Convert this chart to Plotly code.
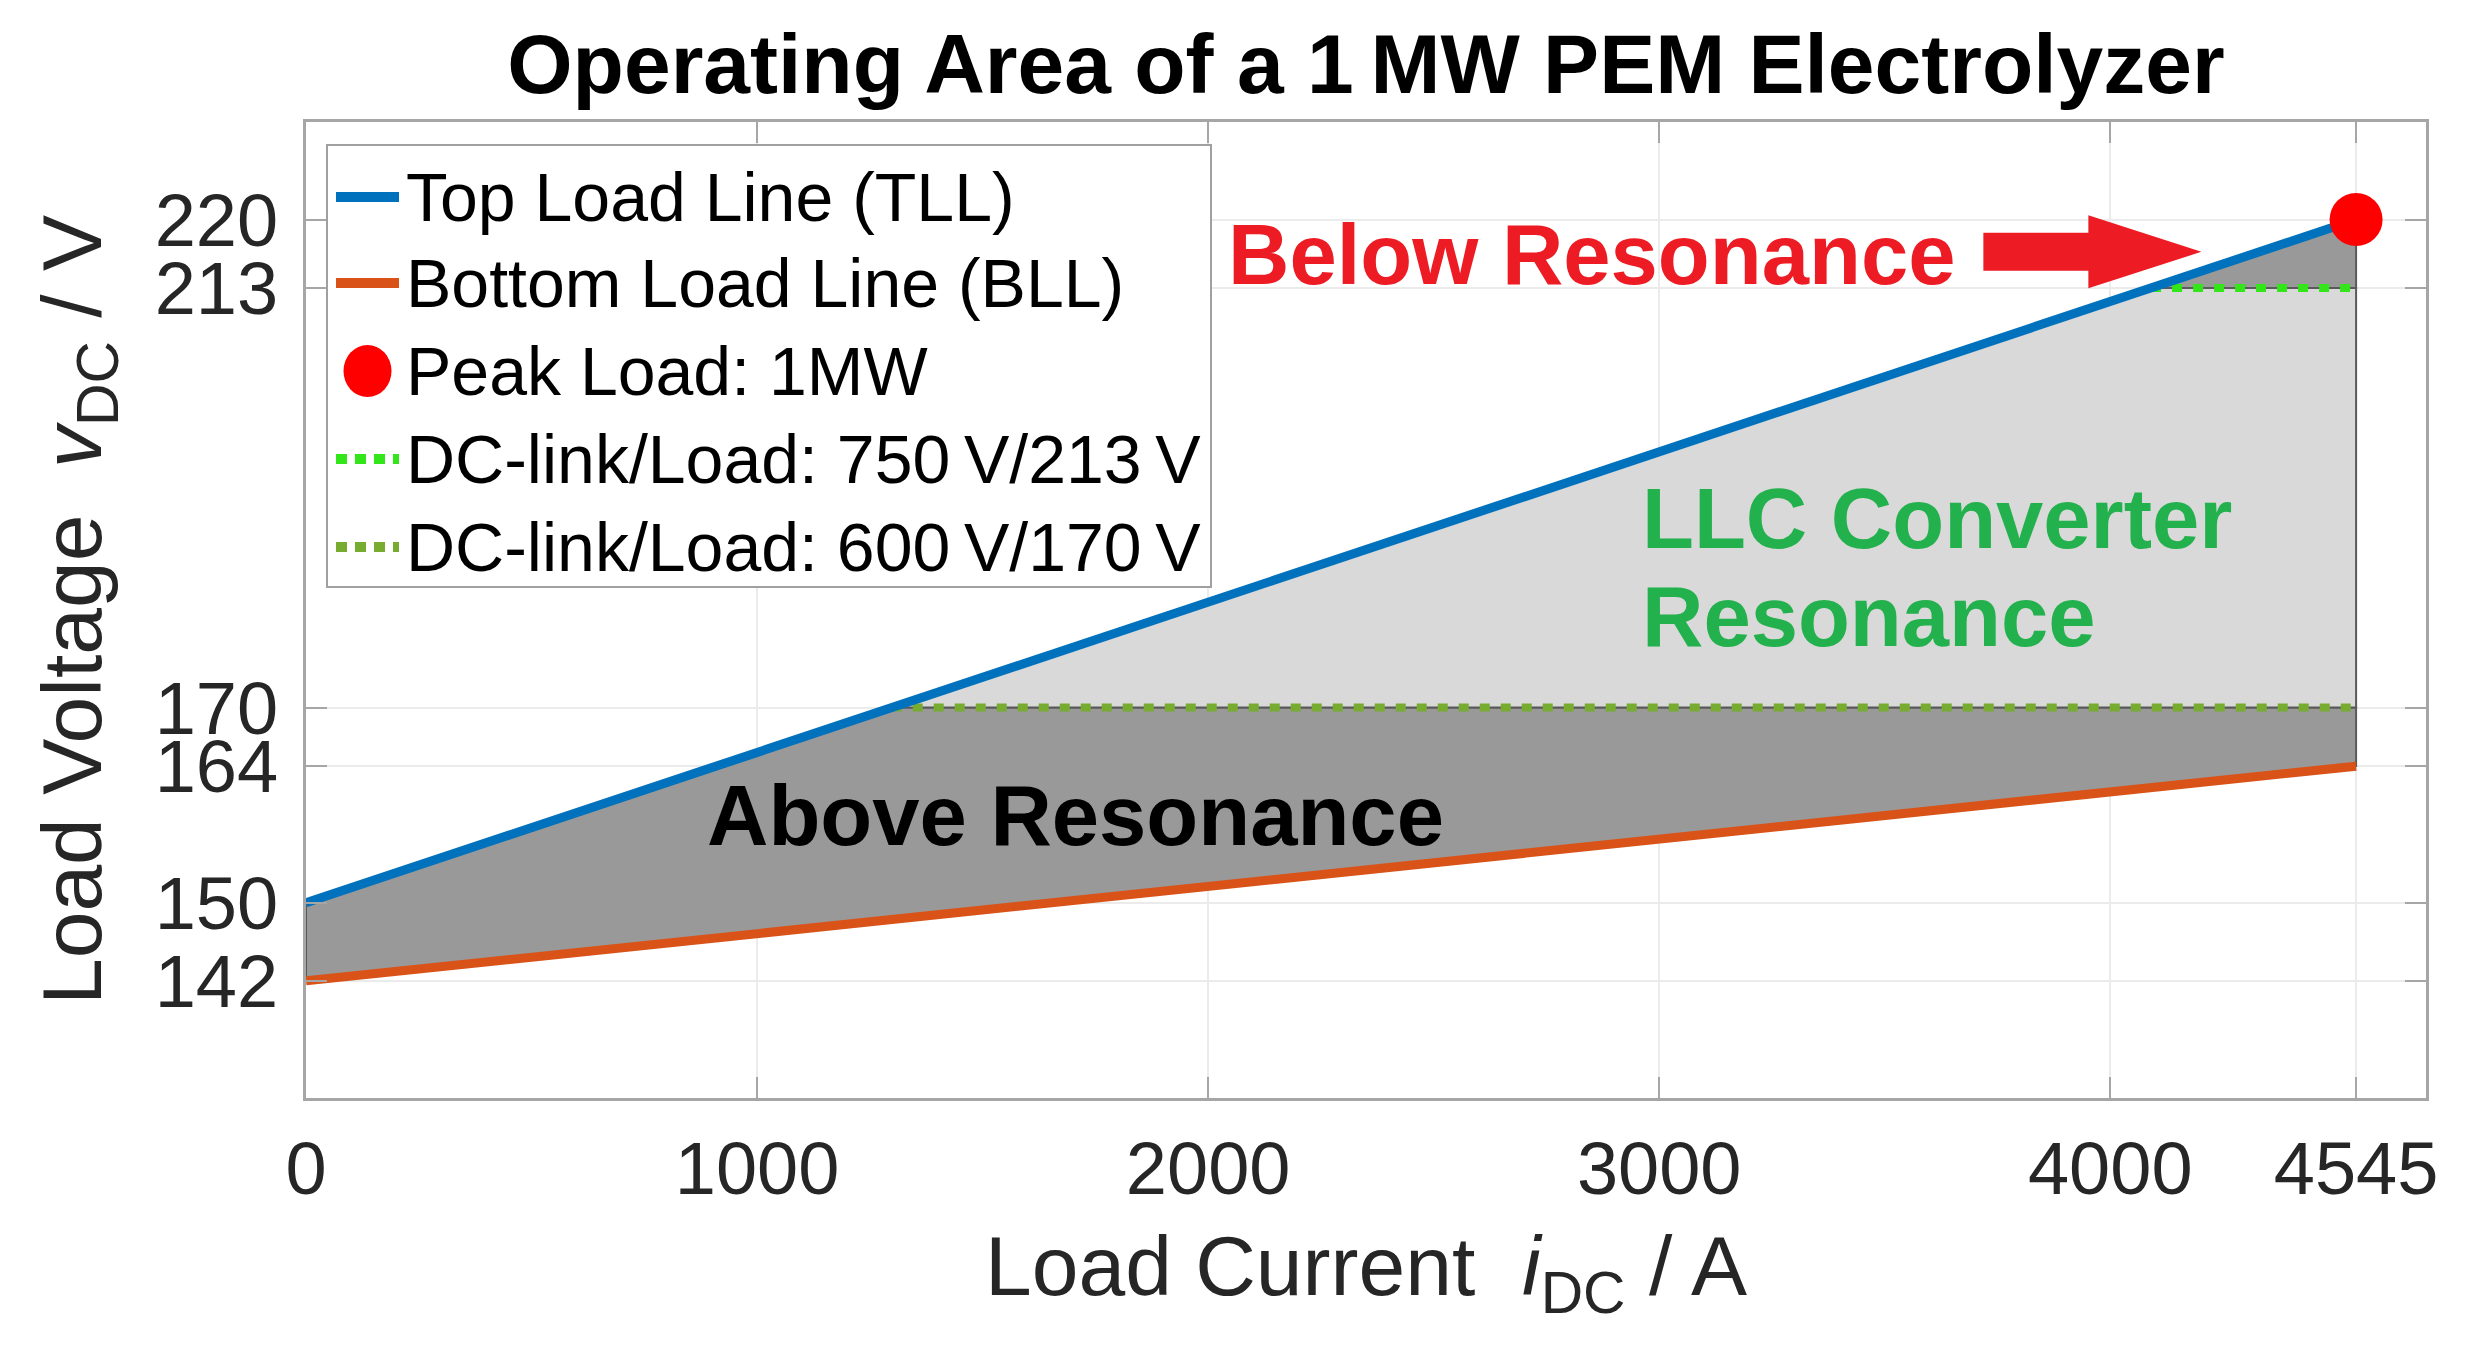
import numpy as np
import plotly.graph_objects as go

# ---------------- data ----------------
i_dc_end = [0, 4545]              # load current span (A)
tll_v = [150, 220]                # top load line voltages (V)
bll_v = [142, 164]                # bottom load line voltages (V)
peak_i = [4545]
peak_v = [220]
dc_link_high = 213                # 750 V / 213 V
dc_link_low = 170                 # 600 V / 170 V
x_ticks = [0, 1000, 2000, 3000, 4000, 4545]
y_ticks = [142, 150, 164, 170, 213, 220]
x_range = [0, 4700]
y_range = [130, 230]

names = ["Top Load Line (TLL)", "Bottom Load Line (BLL)", "Peak Load: 1MW",
         "DC-link/Load: 750\u2009V/213\u2009V", "DC-link/Load: 600\u2009V/170\u2009V"]

# ---------------- derived geometry from data ----------------
x0, x1 = i_dc_end
t0, t1 = tll_v
b0, b1 = bll_v
slope_t = (t1 - t0) / (x1 - x0)
x_cross_low = x0 + (dc_link_low - t0) / slope_t
x_cross_high = x0 + (dc_link_high - t0) / slope_t

dark1_x = [x0, x1, x1, x_cross_low, x0, x0]
dark1_y = [b0, b1, dc_link_low, dc_link_low, t0, b0]
light_x = [x_cross_low, x1, x1, x_cross_high, x_cross_low]
light_y = [dc_link_low, dc_link_low, dc_link_high, dc_link_high, dc_link_low]
dark2_x = [x_cross_high, x1, x1, x_cross_high]
dark2_y = [dc_link_high, dc_link_high, t1, dc_link_high]

# ---------------- styles ----------------
FONT = "Liberation Sans, Arial, Helvetica, sans-serif"
C_TLL = "#0072BD"
C_BLL = "#D95319"
C_PEAK = "#FF0000"
C_DARK = "#999999"
C_LIGHT = "#D9D9D9"
C_EDGE = "#5A5A5A"
C_G1 = "#33E61A"
C_G2 = "#77AC30"
DOT = "10px,11px"

OFF = 8                                  # page body margin
W, H = 2466 - 2 * OFF, 1371 - 2 * OFF
PL, PR, PT, PB = 306 - OFF, 2426 - OFF, 122 - OFF, 1098 - OFF   # plot area in figure pixels


def px(xp):
    return (xp - OFF - PL) / (PR - PL)


def py(yp):
    return (PB - (yp - OFF)) / (PB - PT)


fig = go.Figure()

for fx, fy, fc in [(dark1_x, dark1_y, C_DARK), (light_x, light_y, C_LIGHT), (dark2_x, dark2_y, C_DARK)]:
    fig.add_trace(go.Scatter(x=fx, y=fy, mode="lines", fill="toself", fillcolor=fc,
                             line=dict(color=C_EDGE, width=2), showlegend=False, hoverinfo="skip"))

fig.add_trace(go.Scatter(x=[x_cross_high, x1], y=[dc_link_high, dc_link_high], mode="lines",
                         name=names[3], showlegend=False,
                         line=dict(color=C_G1, width=8, dash=DOT)))
fig.add_trace(go.Scatter(x=[x_cross_low, x1], y=[dc_link_low, dc_link_low], mode="lines",
                         name=names[4], showlegend=False,
                         line=dict(color=C_G2, width=8, dash=DOT)))
fig.add_trace(go.Scatter(x=i_dc_end, y=bll_v, mode="lines", name=names[1], showlegend=False,
                         line=dict(color=C_BLL, width=9)))
fig.add_trace(go.Scatter(x=i_dc_end, y=tll_v, mode="lines", name=names[0], showlegend=False,
                         line=dict(color=C_TLL, width=9)))
fig.add_trace(go.Scatter(x=peak_i, y=peak_v, mode="markers", name=names[2], showlegend=False,
                         marker=dict(color=C_PEAK, size=53, line=dict(width=0))))

# ---------------- annotations ----------------
ann_font = dict(family=FONT, size=85)
fig.add_annotation(x=2850, y=216.4, text="<b>Below Resonance</b>", showarrow=False,
                   font=dict(ann_font, color="#ED1C24"), xanchor="center", yanchor="middle")
fig.add_annotation(x=1707, y=158.9, text="<b>Above Resonance</b>", showarrow=False,
                   font=dict(ann_font, color="#000000"), xanchor="center", yanchor="middle")
fig.add_annotation(x=2958, y=189.4, text="<b>LLC Converter</b>", showarrow=False,
                   font=dict(ann_font, color="#22B14C"), xanchor="left", yanchor="middle")
fig.add_annotation(x=2958, y=179.3, text="<b>Resonance</b>", showarrow=False,
                   font=dict(ann_font, color="#22B14C"), xanchor="left", yanchor="middle")

# block arrow (pixel-sized path anchored in data space)
fig.add_shape(type="path", xref="x", yref="y", xsizemode="pixel", ysizemode="pixel",
              xanchor=4202, yanchor=216.7,
              path="M0,0 L-113,36.5 L-113,19 L-218,19 L-218,-19 L-113,-19 L-113,-36.5 Z",
              fillcolor="#ED1C24", line=dict(width=0))

# ---------------- custom legend ----------------
LEG_BOX = (327, 145, 1211, 587)
LEG_ROWS = [197, 283, 371, 459, 547]
SYM_X0, SYM_X1, TXT_X = 336, 399, 404
fig.add_shape(type="rect", xref="paper", yref="paper",
              x0=px(LEG_BOX[0]), x1=px(LEG_BOX[2]), y0=py(LEG_BOX[3]), y1=py(LEG_BOX[1]),
              fillcolor="white", line=dict(color="#A0A0A0", width=2))
leg_syms = [("line", C_TLL, "solid"), ("line", C_BLL, "solid"), ("dot", C_PEAK, None),
            ("line", C_G1, "11px,8px"), ("line", C_G2, "11px,8px")]
for (kind, col, dash), row, nm in zip(leg_syms, LEG_ROWS, names):
    if kind == "line":
        fig.add_shape(type="line", xref="paper", yref="paper",
                      x0=px(SYM_X0), x1=px(SYM_X1), y0=py(row), y1=py(row),
                      line=dict(color=col, width=10, dash=dash))
    else:
        fig.add_shape(type="circle", xref="paper", yref="paper",
                      xsizemode="pixel", ysizemode="pixel",
                      xanchor=px((SYM_X0 + SYM_X1) / 2), yanchor=py(row),
                      x0=-24, x1=24, y0=-26, y1=26,
                      fillcolor=col, line=dict(width=0))
    fig.add_annotation(xref="paper", yref="paper", x=px(TXT_X), y=py(row), text=nm,
                       showarrow=False, xanchor="left", yanchor="middle",
                       font=dict(family=FONT, size=68, color="#000000"))

# ---------------- layout ----------------
axis_common = dict(showline=True, linecolor="#A6A6A6", linewidth=3, mirror="ticks",
                   ticks="inside", ticklen=21, tickwidth=2, tickcolor="#A6A6A6",
                   showgrid=True, gridcolor="#EBEBEB", gridwidth=2, zeroline=False,
                   automargin=False,
                   tickfont=dict(family=FONT, size=74, color="#262626"))

fig.update_layout(
    width=W, height=H,
    paper_bgcolor="white", plot_bgcolor="white",
    margin=dict(l=PL, r=W - PR, t=PT, b=H - PB, autoexpand=False),
    title=dict(text="<b>Operating Area of a 1\u2009MW PEM Electrolyzer</b>",
               x=0.5, xref="paper", xanchor="center",
               y=1 - (64 - OFF) / H, yref="container", yanchor="middle",
               font=dict(family=FONT, size=84, color="#000000")),
    xaxis=dict(axis_common, range=x_range, tickvals=x_ticks,
               ticktext=[str(v) for v in x_ticks], ticklabelstandoff=4,
               title=dict(text="Load Current  <i>i</i><sub>DC</sub> / A", standoff=28,
                          font=dict(family=FONT, size=84, color="#262626"))),
    yaxis=dict(axis_common, range=y_range, tickvals=y_ticks,
               ticktext=[str(v) for v in y_ticks], ticklabelstandoff=10,
               title=dict(text="Load Voltage  <i>v</i><sub>DC</sub> / V", standoff=26,
                          font=dict(family=FONT, size=84, color="#262626"))),
    showlegend=False,
)

fig.write_html("out.html")
